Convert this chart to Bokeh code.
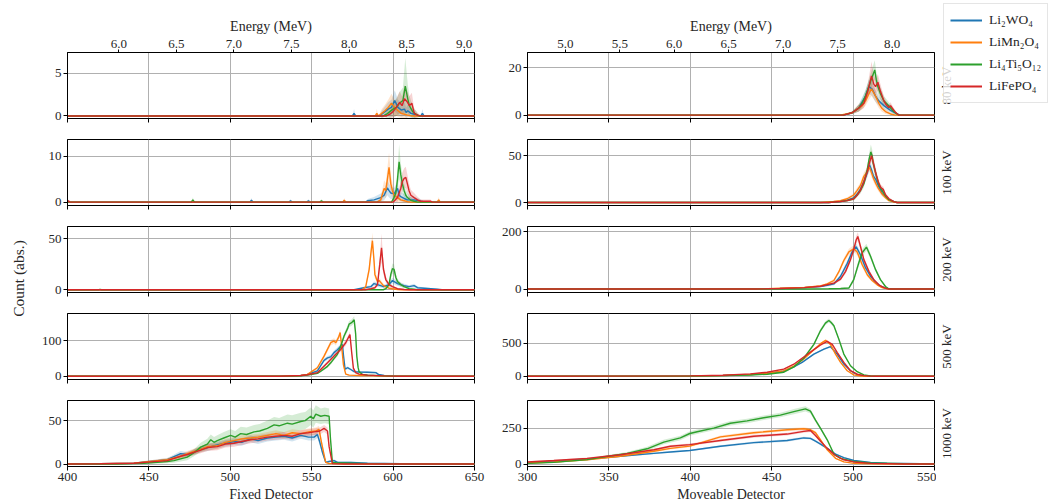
import math
from bokeh.plotting import figure
from bokeh.models import Range1d, LinearAxis, FixedTicker, Label, Legend, LegendItem, PrintfTickFormatter
from bokeh.layouts import row, column
from bokeh.embed import file_html
from bokeh.resources import INLINE

# ---------------- data: (channel, counts, uncertainty) ----------------
SERIES = ["Li₂WO₄", "LiMn₂O₄", "Li₄Ti₅O₁₂", "LiFePO₄"]
ENERGIES = ["80 keV", "100 keV", "200 keV", "500 keV", "1000 keV"]

# Fixed detector, 80 keV
fix80_w = [(400,0,0),(575,0,0),(576,0.3,0.5),(577,0,0),(592,0,0),(593,0.2,0.4),(595,0.5,0.6),(597,0.8,0.8),(599,1.0,0.9),(601,1.8,1.2),(603,1.0,0.9),(605,0.7,0.8),(607,0.8,0.8),(608,0.4,0.6),(609,0.6,0.7),(611,0.3,0.5),(613,0.2,0.4),(615,0,0),(617,0,0),(618,0.3,0.5),(619,0,0),(650,0,0)]
fix80_mn = [(400,0,0),(589,0,0),(590,0.3,0.5),(591,0,0),(593,0.3,0.5),(595,0.6,0.7),(597,1.0,0.9),(599,1.5,1.1),(601,1.0,0.9),(603,0.6,0.7),(605,0.3,0.5),(607,0.2,0.4),(609,0.1,0.3),(611,0,0),(650,0,0)]
fix80_ti = [(400,0,0),(594,0,0),(596,0.2,0.4),(598,0.5,0.7),(600,0.8,0.9),(602,1.0,1.0),(604,1.5,1.3),(606,1.8,1.5),(607.5,3.5,3.3),(609,2.0,1.7),(610,1.2,1.2),(612,0.5,0.7),(614,0.2,0.4),(616,0,0),(650,0,0)]
fix80_fe = [(400,0,0),(596,0,0),(598,0.2,0.4),(600,0.5,0.7),(602,1.0,1.0),(604,1.6,1.3),(605.5,1.2,1.1),(607,2.0,1.6),(608.5,1.7,1.3),(610,1.2,1.1),(611.5,1.5,1.2),(613,0.3,0.5),(615,0.1,0.3),(617,0,0),(650,0,0)]

# Fixed detector, 100 keV
fix100_w = [(400,0,0),(512,0,0),(513,0.4,0.5),(514,0,0),(536,0,0),(537,0.3,0.4),(538,0,0),(547,0,0),(548,0.3,0.4),(549,0,0),(583,0,0),(584.3,0.3,0.4),(588.3,0.5,0.6),(592.4,1.0,0.9),(594.5,1.5,1.1),(596.5,3.1,1.6),(597.5,2.5,1.5),(598.6,2.0,1.3),(600.6,1.8,1.3),(602.7,3.0,1.6),(603.7,1.5,1.2),(604.7,1.2,1.0),(606.8,0.8,0.9),(608.8,0.5,0.7),(612.9,0.5,0.7),(617,0.2,0.4),(620,0,0),(650,0,0)]
fix100_mn = [(400,0,0),(569,0,0),(570,0.4,0.5),(571,0,0),(590,0,0),(592.4,0.5,0.6),(594.5,3.0,1.8),(595.5,2.5,1.6),(596.5,5.0,2.5),(597.5,7.6,3.2),(598.6,4.0,2.2),(599.6,2.5,1.6),(600.6,1.5,1.2),(602.7,1.0,1.0),(604.7,0.5,0.7),(606.8,0.3,0.5),(608.8,0.1,0.3),(611,0,0),(627,0,0),(628,0.5,0.6),(629,0,0),(650,0,0)]
fix100_ti = [(400,0,0),(476,0,0),(477,0.5,0.5),(478,0,0),(555,0,0),(556,0.3,0.4),(557,0,0),(599,0,0),(600.6,1.0,0.9),(601.7,2.0,1.3),(602.7,5.0,2.2),(603.7,8.8,3.8),(604.7,6.0,2.6),(605.7,4.0,2.0),(606.8,2.5,1.5),(607.8,1.5,1.2),(608.8,1.0,1.0),(610.9,0.4,0.6),(612.9,0.2,0.4),(615,0,0),(650,0,0)]
fix100_fe = [(400,0,0),(400.6,0.3,0.3),(401.5,0,0),(600,0,0),(602.7,1.0,0.9),(604.7,3.0,1.6),(605.7,4.5,2.0),(606.8,5.2,2.2),(607.8,5.4,2.3),(608.8,4.0,2.0),(609.8,2.5,1.6),(610.9,1.5,1.2),(612.9,1.0,1.0),(615,0.5,0.7),(617,0.2,0.4),(623,0.2,0.4),(624,0,0),(650,0,0)]

# Fixed detector, 200 keV
fix200_w = [(400,0,0),(576,0,0),(579.1,1,0.8),(582.2,2,1.2),(586.3,3,1.5),(588.3,6,2),(590.4,5,2),(594.1,3,1.5),(597.5,5,2),(599.6,9,2.8),(601.7,7,2.5),(602.7,6,2.2),(604.7,5,2),(606.8,4,1.8),(609.8,3,1.5),(612.9,4,1.8),(615,2,1.2),(619.1,1.5,1),(623.2,1,0.8),(627.3,0.5,0.5),(630,0,0),(650,0,0)]
fix200_mn = [(400,0,0),(581,0,0),(583.2,3,1.5),(585.3,20,4),(586.3,35,6),(587.3,48,8),(588.3,28,5),(588.8,15,4),(590.4,8,2.5),(591.4,9,2.5),(592.5,7,2.5),(594.1,4,1.8),(595.5,3,1.5),(597.5,1.5,1),(599.6,1,0.8),(602.7,0.3,0.5),(605,0,0),(650,0,0)]
fix200_ti = [(400,0,0),(419,0,0),(420,0.3,0.3),(421,0,0),(594,0,0),(595.5,1,0.8),(597.5,5,2),(598.6,15,4),(599.6,20.7,5),(600.6,20,5),(601.7,12,3.5),(602.7,8,2.8),(604.7,5,2),(606.8,3,1.5),(609.8,1,0.8),(612.9,0.5,0.5),(615,0,0),(650,0,0)]
fix200_fe = [(400,0,0),(583,0,0),(586.3,1,0.8),(588.8,2,1.2),(590.4,5,2),(591.8,25,6),(592.9,41,14),(594.1,20,5),(595.5,10,3),(597.5,5,2),(599.6,3,1.5),(602.7,1,0.8),(606.8,0.3,0.5),(610,0,0),(650,0,0)]

# Fixed detector, 500 keV
fix500_w = [(400,0,0),(530,0,0),(543.3,2,1),(547.4,5,2),(553.5,15,3),(557.6,45,5),(559.7,52,5),(561.7,55,6),(563.7,67,6),(565.8,75,7),(567.8,85,7),(568.9,90,7),(569.5,60,6),(570.5,20,4),(572,24,4),(574,19,3),(576.1,13,3),(579.1,12,3),(584.3,11,3),(589.4,10,3),(591,5,2),(594.5,2,1.2),(600.6,1,0.8),(610,0,0),(650,0,0)]
fix500_mn = [(400,0,0),(530,0,0),(543.3,2,1),(547.4,5,2),(553.5,24,4),(557.6,57,6),(561.7,95,8),(563.7,100,8),(564.8,95,8),(566.5,110,8),(567.5,124,9),(568.5,80,7),(569.5,32,5),(570.9,6,2),(573,3,1.5),(580,2,1),(590,1,0.8),(600,0,0),(650,0,0)]
fix500_ti = [(400,0,0),(530,0,0),(543.3,1,0.8),(547.4,3,1.5),(553.5,8,2.5),(555.6,14,3),(559.7,28,4),(561.7,38,5),(563.7,50,5),(565.8,62,6),(567.8,85,7),(569.9,114,8),(572,135,9),(573,148,9),(574.5,152,9),(576.1,160,10),(577,120,8),(577.7,57,6),(578.5,25,4),(579.1,13,3),(581.2,5,2),(584.3,3,1.5),(594.5,1,0.8),(604.7,0,0),(650,0,0)]
fix500_fe = [(400,0,0),(530,0,0),(543.3,2,1),(547.4,4,1.5),(553.5,10,2.5),(559.7,38,5),(563.7,57,6),(567.8,76,7),(570.9,95,8),(572,105,8),(573.5,118,9),(574.5,70,7),(575.6,23,4),(577,10,3),(579.1,6,2),(584.3,3,1.5),(594.5,1,0.8),(604.7,0,0),(650,0,0)]

# Fixed detector, 1000 keV
fix1000_w = [(400,0,0),(420,0.3,0.3),(440.8,1,0.8),(451,3,1.5),(461.3,5,2),(469.5,12,3),(473.6,11,3),(481.8,17,3.5),(486,19,4),(492,22,4),(497,24,4),(502.3,26,4),(507,25,4),(512.5,29,4),(517,27,4),(522.8,30,4),(528,31,4),(533,32,4),(538,30,4),(543.3,33,4),(548,31,4),(551.5,31,4),(553.5,34,4),(555,25,4),(556.6,13.6,3),(558.6,2,1),(560.7,3,1.2),(563.7,4,1.5),(566,2,1),(574,2,1),(584.3,1,0.8),(604.7,0.5,0.5),(620,0,0),(650,0,0)]
fix1000_mn = [(400,0,0),(420,0.3,0.3),(440.8,1,0.8),(451,3,1.5),(461.3,5,2),(469.5,9,3),(473.6,12,3),(481.8,17,3.5),(486,20,4),(492,21,4),(497,25,4),(502.3,27,4),(507,29,4),(512.5,30,4),(517,31,4),(522.8,33,4),(528,35,4),(533,33,4),(538,36,4),(543.3,35,4),(548,37,4),(552.5,38,4),(554.5,40,4),(556,25,4),(558.6,2,1),(560.7,0.5,0.5),(570,0.3,0.3),(590,0,0),(650,0,0)]
fix1000_ti = [(400,0,0),(430,0,0),(440.8,0.5,0.5),(446.9,1,0.8),(455.1,2,1.5),(461.3,3,2),(465.4,4,2.5),(469.5,6,3),(473.6,8,3.5),(477.7,13,4),(481.8,19.5,5),(485.9,23,6),(488,28,6),(490,25,6),(492,27,6),(496,30,7),(500.2,33,7),(503,31,7),(506.4,35,8),(510,34,8),(514.6,37,8),(518,38,8),(522.8,41,9),(526.9,45,9),(530,44,9),(535.1,47,10),(538,46,10),(543.3,49,10),(546,50,10),(549.4,55,10),(551,52,10),(552.5,57.5,10),(555.6,55,9),(558,56,9),(560.7,55,9),(561.5,30,5),(562.7,2,1),(565,1.5,1),(574,1,0.8),(584.3,0.5,0.5),(600,0,0),(650,0,0)]
fix1000_fe = [(400,0,0),(420,0.3,0.3),(440.8,1,0.8),(451,2.5,1.5),(461.3,4,2),(469.5,9,3),(473.6,11,3),(481.8,16,3.5),(486,19,4),(492,20,4),(497,23,4),(502.3,24,4),(507,26,4),(512.5,28,4),(517,29,4),(522.8,31,4),(528,32,4),(533,33,4),(538,32,4),(543.3,35,4),(548,36,4),(551.5,37,4),(555,38,4),(557.6,41,4),(559.7,38,4),(560.7,20,3),(562.7,0.5,0.5),(570,0,0),(650,0,0)]

# Moveable detector, 80 keV
mov80_w = [(300,0,0),(494,0,0),(499.4,1,0.5),(503.5,3,1.5),(507.6,8,2.5),(509.7,12,3),(511.7,11,3),(513.8,8,2.5),(515.8,6,2),(518.9,4,1.5),(523,2,1),(527.1,0.5,0.5),(529,0,0),(550,0,0)]
mov80_mn = [(300,0,0),(492,0,0),(499.4,1,0.5),(503.5,3,1.5),(505.6,4,1.5),(507.6,6,2),(509.7,9,2.5),(511.3,11,3),(513.8,8,2.5),(515.8,5,2),(517.5,3,1.5),(519.9,1.5,1),(523,0.5,0.5),(526,0,0),(550,0,0)]
mov80_ti = [(300,0,0),(494,0,0),(499.4,1,0.5),(501.5,2,1),(503.5,3,1.5),(505.6,5,2),(507.6,8,2.5),(509.7,12,3),(511.7,16,3.5),(513.3,19,4),(514.2,15,3.5),(515.2,12,3),(516.8,9,2.5),(518.9,6,2),(521.9,4,1.5),(523,3,1.5),(525,1.5,1),(526,1,0.8),(528,0,0),(550,0,0)]
mov80_fe = [(300,0,0),(494,0,0),(499.4,1,0.5),(501.5,2,1),(503.5,3,1.5),(506.6,5,2),(509,10,3),(511.3,16.5,6),(512.7,13,4),(513.8,12,3),(515.2,13.8,3.5),(516.8,10,3),(518.9,6,2),(520.2,4.5,1.5),(521.9,3.2,1.2),(523,4,1.4),(524,3,1.2),(526,1.2,0.8),(528.1,0,0),(550,0,0)]

# Moveable detector, 100 keV
mov100_w = [(300,0,0),(485,0,0),(492.3,1,0.5),(496.4,2.5,1),(500.4,5,1.5),(502.5,9,2),(504.5,14,3),(506.6,22,4),(508.7,32,5),(510.1,40,5),(511.3,35,5),(512.5,28,4),(513.8,25,4),(515.5,18,3),(517.8,10,2.5),(520,6,2),(522,3,1.2),(525,1,0.6),(527,0,0),(550,0,0)]
mov100_mn = [(300,0,0),(480,0,0),(488,1,0.5),(492.3,2,1),(496.4,4,1.5),(500.4,8,2),(502.5,13,3),(504.5,18,3.5),(506.6,28,4),(508.7,33,4.5),(510,38,5),(511.3,32,5),(512.5,26,4),(514,20,3.5),(515.5,15,3),(517.8,9,2.5),(520,5,1.5),(522,2,1),(525,0.5,0.5),(527,0,0),(550,0,0)]
mov100_ti = [(300,0,0),(485,0,0),(492.3,1,0.5),(496.4,2,1),(500.4,4,1.5),(502.5,8,2),(504.5,13,3),(506.6,20,4),(508.7,35,5),(509.8,46,6),(510.9,54,8),(511.7,50,7),(512.3,42,6),(513.8,32,5),(514.8,25,4),(516,18,3.5),(517.8,13,3),(519.9,7,2),(522,3,1.5),(525,1,0.8),(527,0,0),(550,0,0)]
mov100_fe = [(300,0,0),(485,0,0),(492.3,1,0.5),(496.4,2,1),(500.4,4,1.5),(502.5,8,2),(504.5,13,3),(506.6,22,4),(508.7,33,5),(510,42,6),(511.3,50,6),(512.5,42,6),(513.8,32,5),(515.5,22,4),(517,16,3),(518.5,14,3),(520,8,2),(522,4,1.5),(525,1,0.8),(527,0,0),(550,0,0)]

# Moveable detector, 200 keV
mov200_w = [(300,0,0),(440,0,0),(455,2,1),(470,5,2),(480,9,3),(484.1,13,4),(488.2,18,5),(492.3,45,7),(496.4,90,9),(499.4,130,11),(501.9,148,12),(504.5,120,10),(507.6,75,8),(510.7,45,6),(513.8,25,4),(516.8,10,2.5),(520.9,2,1),(525,0,0),(550,0,0)]
mov200_mn = [(300,0,0),(440,0,0),(455,3,1),(470,6,2),(480,11,3),(484.1,18,4),(488.2,30,5),(491.2,60,7),(494.3,100,9),(497.4,130,11),(500.4,141,12),(502.5,130,11),(505.6,85,9),(508.7,50,7),(511.7,30,5),(514.8,15,3),(517.8,5,2),(520.9,1,1),(523,0,0),(550,0,0)]
mov200_ti = [(300,0,0),(470,0,0),(485,1,1),(492.3,2,1.5),(497.4,3.5,3),(500.4,33,8),(503.5,92,12),(505.6,127,12),(508.2,147,12),(510.7,115,10),(513.8,68,7),(516.8,33,5),(519.9,9,2),(521.9,1,1),(524,0,0),(550,0,0)]
mov200_fe = [(300,0,0),(440,0,0),(455,2,1),(470,5,2),(480,10,3),(488.2,21,5),(492.3,35,6),(495.4,62,8),(498.4,103,10),(500.4,139,12),(501.9,172,14),(502.9,184,15),(504.5,150,12),(506.6,103,10),(509.7,62,7),(512.7,33,5),(515.8,15,3),(518.9,5,2),(521.9,0,0),(550,0,0)]

# Moveable detector, 500 keV
mov500_w = [(300,0,0),(400,3,1),(420,10,3),(437,25,4),(447.2,40,5),(457.4,75,7),(463.6,140,8),(468.7,208,10),(475.9,333,12),(482.1,409,13),(486.1,445,14),(490.2,333,13),(494.3,182,11),(498.4,82,8),(502.5,25,4),(506.6,5,2),(510,0,0),(550,0,0)]
mov500_mn = [(300,0,0),(400,3,1),(420,10,3),(437,25,5),(447.2,40,6),(457.4,80,8),(463.6,150,10),(469.7,260,12),(475.9,400,15),(480,490,15),(483.1,540,15),(486.1,480,15),(489.2,333,12),(492.3,208,10),(496.4,82,7),(500.4,20,4),(504.5,3,2),(508.7,0,0),(550,0,0)]
mov500_ti = [(300,0,0),(400,2,1),(420,8,3),(437,18,5),(447.2,30,8),(457.4,60,12),(463.6,140,15),(469.7,270,20),(475.9,480,25),(480,688,30),(483,800,30),(485.1,840,30),(486.5,810,28),(488.2,760,25),(491.2,560,20),(494.3,333,15),(498.4,157,10),(502.5,67,6),(506.6,20,4),(510.7,2,1),(514.8,0,0),(550,0,0)]
mov500_fe = [(300,0,0),(400,5,1),(420,15,3),(437,35,5),(447.2,60,6),(457.4,106,8),(463.6,180,10),(469.7,290,12),(475.9,400,14),(480,470,15),(484.1,525,15),(487.2,480,15),(490.2,359,12),(494.3,208,10),(498.4,82,7),(502.5,30,5),(506.6,8,3),(510.7,1,1),(514,0,0),(550,0,0)]

# Moveable detector, 1000 keV
mov1000_w = [(300,10,3),(316.2,20,4),(336.6,35,5),(357.1,55,6),(377.6,75,6),(387.8,85,6),(399.7,95,6),(418.5,125,7),(439,150,8),(459.5,165,8),(469.7,183,8),(473.8,180,8),(476.9,160,8),(480,140,8),(484.1,110,7),(489.2,70,6),(494.3,45,5),(500.5,25,4),(510.7,12,3),(520.9,6,2),(541.4,2,1),(550,1,1)]
mov1000_mn = [(300,8,3),(316.2,15,4),(336.6,30,5),(357.1,55,6),(377.6,90,8),(387.8,110,8),(399.7,126,8),(418.5,190,10),(439,219,10),(459.5,240,10),(469.7,247,10),(473.8,240,10),(476.9,220,10),(480,170,9),(484.1,100,7),(489.2,40,5),(494.3,15,3),(500.5,5,2),(510.7,2,1),(530,0,0),(550,0,0)]
mov1000_ti = [(300,5,3),(316.2,12,4),(336.6,31,6),(349.5,55,8),(361.2,75,10),(373.5,107,14),(383.7,154,16),(393.9,183,16),(399.7,214,16),(404.2,226,16),(414.4,252,16),(424.6,286,16),(434.9,302,16),(445.1,324,16),(455.3,343,16),(463.6,367,18),(470.7,386,18),(473.8,370,16),(476.9,307,14),(480,250,12),(484.1,170,10),(488.2,70,7),(492.3,40,5),(499.4,20,3),(510.7,8,2),(531.2,3,1),(550,0,0)]
mov1000_fe = [(300,15,4),(316.2,25,5),(336.6,40,6),(357.1,65,7),(377.6,100,8),(387.8,125,8),(399.7,136,8),(418.5,165,9),(439,195,10),(459.5,210,10),(469.7,229,10),(473.8,235,10),(476.9,200,10),(480,160,9),(484.1,110,7),(489.2,60,5),(494.3,30,4),(500.5,15,3),(510.7,5,2),(531.2,1,1),(550,0,0)]

FIXED_TICKS = [400, 450, 500, 550, 600, 650]
MOVE_TICKS = [300, 350, 400, 450, 500, 550]
FIXED_E_TICKS = [6.0, 6.5, 7.0, 7.5, 8.0, 8.5, 9.0]
MOVE_E_TICKS = [5.0, 5.5, 6.0, 6.5, 7.0, 7.5, 8.0]
FIXED_E_RANGE = (5.554, 9.090)
MOVE_E_RANGE = (4.653, 8.389)

FIXED_Y = [(-0.3, 7.42), (-0.73, 13.66), (-2.7, 61.9), (-9.4, 178), (-2.8, 73.1)]
MOVE_Y = [(-1.4, 26.3), (-3.2, 67.3), (-12, 219), (-50, 945), (-17, 445)]
FIXED_YTICKS = [[0, 5], [0, 10], [0, 50], [0, 100], [0, 50]]
MOVE_YTICKS = [[0, 20], [0, 50], [0, 200], [0, 500], [0, 250]]

FIXED_DATA = [
    [fix80_w, fix80_mn, fix80_ti, fix80_fe],
    [fix100_w, fix100_mn, fix100_ti, fix100_fe],
    [fix200_w, fix200_mn, fix200_ti, fix200_fe],
    [fix500_w, fix500_mn, fix500_ti, fix500_fe],
    [fix1000_w, fix1000_mn, fix1000_ti, fix1000_fe],
]
MOVE_DATA = [
    [mov80_w, mov80_mn, mov80_ti, mov80_fe],
    [mov100_w, mov100_mn, mov100_ti, mov100_fe],
    [mov200_w, mov200_mn, mov200_ti, mov200_fe],
    [mov500_w, mov500_mn, mov500_ti, mov500_fe],
    [mov1000_w, mov1000_mn, mov1000_ti, mov1000_fe],
]

COLORS = ["#1f77b4", "#ff7f0e", "#2ca02c", "#d62728"]
FONT = "Liberation Serif"
TXT = "#262626"

# layout geometry (pixels)
FW, FH = 407, 66
TOP0 = 52          # border above first row (energy axis)
GAP_B, GAP_T = 10, 11
BOT4 = 21          # tick labels below last row
XLAB_H = 14        # strip holding the detector names
YLAB_W = 28
L_BL, L_BR = 39, 13
R_BL, R_BR = 40, 2
RLAB_W = 117
TOTAL_H = TOP0 + 5 * FH + 4 * (GAP_B + GAP_T) + BOT4 + XLAB_H


def frame_center_from_top(i):
    return TOP0 + i * (FH + GAP_B + GAP_T) + FH / 2


def style_axis(ax):
    ax.major_tick_out = 4
    ax.major_tick_in = 0
    ax.minor_tick_out = 0
    ax.minor_tick_in = 0
    ax.axis_line_color = "black"
    ax.major_tick_line_color = "black"
    ax.major_label_text_font = FONT
    ax.major_label_text_font_size = "13px"
    ax.major_label_text_color = TXT
    ax.major_label_standoff = 2


def blank_fig(w, h):
    f = figure(frame_width=w, frame_height=h, x_range=Range1d(0, w), y_range=Range1d(0, h),
               min_border_left=0, min_border_right=0, min_border_top=0, min_border_bottom=0,
               x_axis_location=None, y_axis_location=None,
               output_backend="svg", toolbar_location=None)
    f.outline_line_color = None
    f.grid.grid_line_color = None
    f.background_fill_color = "white"
    f.border_fill_color = "white"
    return f


def panel(side, i):
    fixed = side == "L"
    xr = (400, 650) if fixed else (300, 550)
    xt = FIXED_TICKS if fixed else MOVE_TICKS
    yr = FIXED_Y[i] if fixed else MOVE_Y[i]
    yt = FIXED_YTICKS[i] if fixed else MOVE_YTICKS[i]
    data = FIXED_DATA[i] if fixed else MOVE_DATA[i]
    p = figure(frame_width=FW, frame_height=FH,
               x_range=Range1d(*xr), y_range=Range1d(*yr),
               min_border_left=L_BL if fixed else R_BL,
               min_border_right=L_BR if fixed else R_BR,
               min_border_top=TOP0 if i == 0 else GAP_T,
               min_border_bottom=BOT4 if i == 4 else GAP_B,
               output_backend="svg", toolbar_location=None)
    p.outline_line_color = "black"
    p.outline_line_width = 1
    p.outline_line_alpha = 1
    p.background_fill_color = "white"
    p.border_fill_color = "white"
    xax = p.xaxis[0]
    yax = p.yaxis[0]
    xax.ticker = FixedTicker(ticks=xt)
    yax.ticker = FixedTicker(ticks=yt)
    p.xgrid.ticker = FixedTicker(ticks=xt)
    p.ygrid.ticker = FixedTicker(ticks=yt)
    p.grid.grid_line_color = "#b0b0b0"
    p.grid.grid_line_width = 1
    style_axis(xax)
    style_axis(yax)
    if i < 4:
        xax.major_label_overrides = {t: "" for t in xt}
        xax.major_label_text_font_size = "0px"
        xax.major_label_standoff = 0

    for pts, c in zip(data, COLORS):
        xs = [a for a, _, _ in pts]
        lo = [b - e for _, b, e in pts]
        hi = [b + e for _, b, e in pts]
        p.varea(x=xs, y1=lo, y2=hi, fill_color=c, fill_alpha=0.2)
    for pts, c in zip(data, COLORS):
        xs = [a for a, _, _ in pts]
        ys = [b for _, b, _ in pts]
        p.line(xs, ys, line_color=c, line_width=1.4)

    if i == 0:
        er = FIXED_E_RANGE if fixed else MOVE_E_RANGE
        et = FIXED_E_TICKS if fixed else MOVE_E_TICKS
        p.extra_x_ranges = {"energy": Range1d(*er)}
        top = LinearAxis(x_range_name="energy", ticker=FixedTicker(ticks=et),
                         formatter=PrintfTickFormatter(format="%.1f"),
                         axis_label="Energy (MeV)")
        style_axis(top)
        top.major_tick_out = 3
        top.axis_label_text_font = FONT
        top.axis_label_text_font_size = "14px"
        top.axis_label_text_font_style = "normal"
        top.axis_label_text_color = TXT
        top.axis_label_standoff = 3
        p.add_layout(top, "above")
    return p


# left strip: y label
ylab = blank_fig(YLAB_W, TOTAL_H)
ylab.add_layout(Label(x=18, y=TOTAL_H - 278, text="Count (abs.)", angle=math.pi / 2,
                      text_align="center", text_baseline="middle",
                      text_font=FONT, text_font_size="15.5px", text_color=TXT))

# bottom strip: detector names
L_W = L_BL + FW + L_BR
R_W = R_BL + FW + R_BR
xlab = blank_fig(L_W + R_W, XLAB_H)
xlab.add_layout(Label(x=L_BL + FW / 2, y=XLAB_H / 2, text="Fixed Detector",
                      text_align="center", text_baseline="middle",
                      text_font=FONT, text_font_size="14px", text_color=TXT))
xlab.add_layout(Label(x=L_W + R_BL + FW / 2, y=XLAB_H / 2, text="Moveable Detector",
                      text_align="center", text_baseline="middle",
                      text_font=FONT, text_font_size="14px", text_color=TXT))

# right strip: beam energies and legend
rlab = blank_fig(RLAB_W, TOTAL_H)
for i, lab in enumerate(ENERGIES):
    rlab.add_layout(Label(x=2, y=TOTAL_H - frame_center_from_top(i), text=lab,
                          angle=math.pi / 2, text_align="center", text_baseline="top",
                          text_font=FONT, text_font_size="13px", text_color=TXT))
dummies = [rlab.line(x=[-10, -5], y=[-10, -10], line_color=c, line_width=2) for c in COLORS]
legend = Legend(items=[LegendItem(label=n, renderers=[r]) for n, r in zip(SERIES, dummies)],
                location=(7, TOTAL_H - 103), orientation="vertical")
legend.label_text_font = FONT
legend.label_text_font_size = "13.5px"
legend.label_text_color = TXT
legend.glyph_width = 32
legend.glyph_height = 20
legend.label_height = 20
legend.label_standoff = 7
legend.spacing = 2
legend.padding = 6
legend.margin = 0
legend.border_line_color = "#cccccc"
legend.border_line_width = 1
legend.background_fill_color = "white"
legend.background_fill_alpha = 0.8
rlab.add_layout(legend)

left_col = column(*[panel("L", i) for i in range(5)], spacing=0)
right_col = column(*[panel("R", i) for i in range(5)], spacing=0)
middle = column(row(left_col, right_col, spacing=0), xlab, spacing=0)
layout = row(ylab, middle, rlab, spacing=0)

with open("out.html", "w") as f:
    f.write(file_html(layout, INLINE))
